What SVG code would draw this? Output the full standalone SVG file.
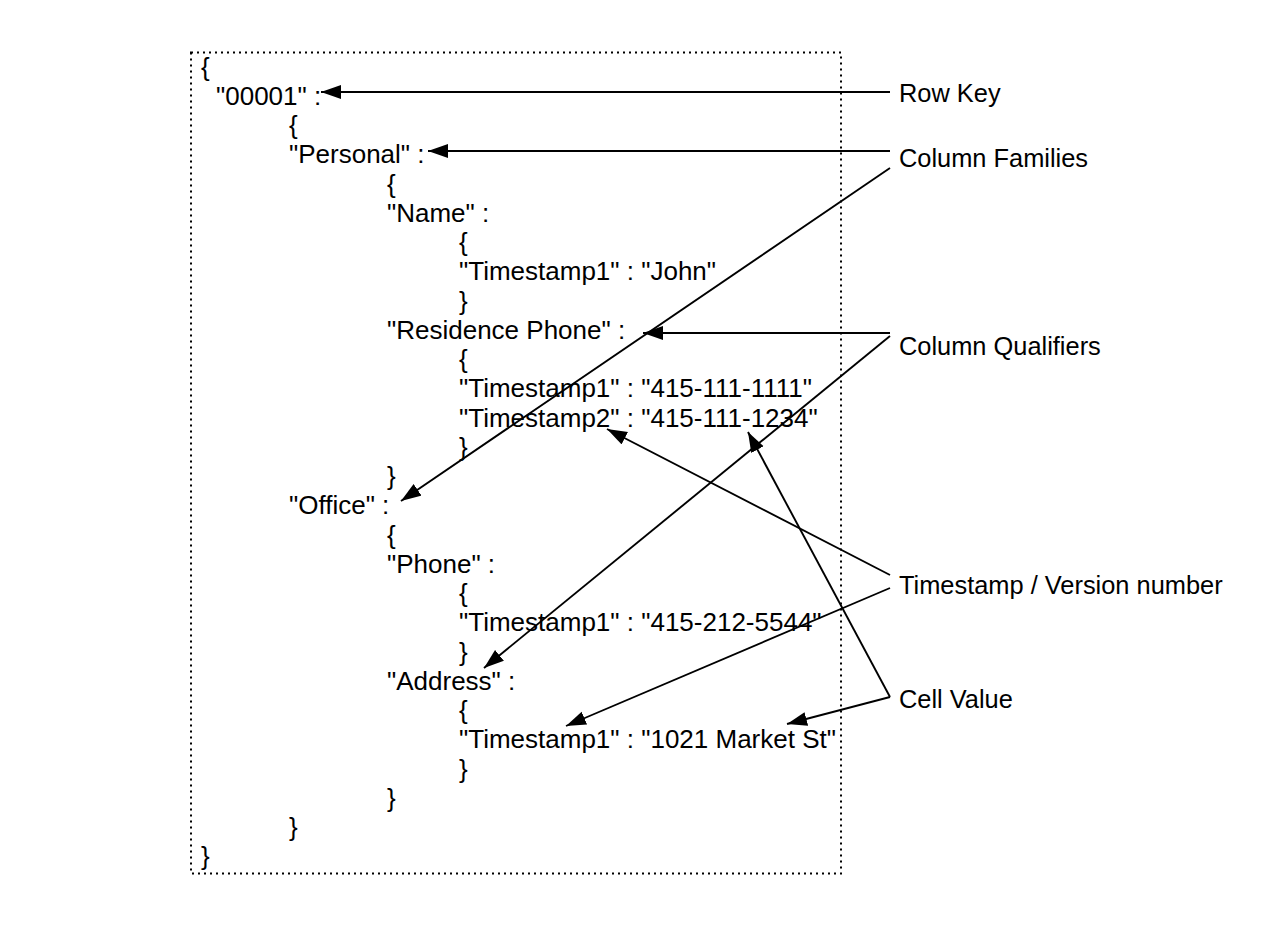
<svg xmlns="http://www.w3.org/2000/svg" width="1288" height="930" viewBox="0 0 1288 930">
<style>
  text { font-family: "Liberation Sans", Arial, Helvetica, sans-serif; font-size: 26px; fill: #000; }
  .label text { font-size: 25.4px; }
  .conn line { stroke: #000; stroke-width: 1.9; fill: none; }
  .frame { fill: none; stroke: #000; stroke-width: 2; stroke-dasharray: 2 4; }
</style>
<defs>
  <marker id="arrow" markerUnits="userSpaceOnUse" markerWidth="22" markerHeight="16" refX="20" refY="7" orient="auto">
    <path d="M0,0 L20,7 L0,14 z" fill="#000"/>
  </marker>
</defs>
<rect width="1288" height="930" fill="#fff"/>
<rect class="frame" x="191" y="52.5" width="650" height="821"/>

<g id="json">
  <text x="201" y="75.5">{</text>
  <text x="216" y="104.75">"00001" :</text>
  <text x="289" y="134">{</text>
  <text x="289" y="163.25">"Personal" :</text>
  <text x="387" y="192.5">{</text>
  <text x="387" y="221.75">"Name" :</text>
  <text x="459" y="251">{</text>
  <text x="459" y="280.25">"Timestamp1" : "John"</text>
  <text x="459" y="309.5">}</text>
  <text x="387" y="338.75">"Residence Phone" :</text>
  <text x="459" y="368">{</text>
  <text x="459" y="397.25">"Timestamp1" : "415-111-1111"</text>
  <text x="459" y="426.5">"Timestamp2" : "415-111-1234"</text>
  <text x="459" y="455.75">}</text>
  <text x="387" y="485">}</text>
  <text x="289" y="514.25">"Office" :</text>
  <text x="387" y="543.5">{</text>
  <text x="387" y="572.75">"Phone" :</text>
  <text x="459" y="602">{</text>
  <text x="459" y="631.25">"Timestamp1" : "415-212-5544"</text>
  <text x="459" y="660.5">}</text>
  <text x="387" y="689.75">"Address" :</text>
  <text x="459" y="719">{</text>
  <text x="459" y="748.25">"Timestamp1" : "1021 Market St"</text>
  <text x="459" y="777.5">}</text>
  <text x="387" y="806.75">}</text>
  <text x="289" y="836">}</text>
  <text x="201" y="865.25">}</text>
</g>

<g id="label-row-key" class="label"><text x="899" y="102">Row Key</text></g>
<g id="label-column-families" class="label"><text x="899" y="167">Column Families</text></g>
<g id="label-column-qualifiers" class="label"><text x="899" y="355">Column Qualifiers</text></g>
<g id="label-timestamp" class="label"><text x="899" y="594">Timestamp / Version number</text></g>
<g id="label-cell-value" class="label"><text x="899" y="708">Cell Value</text></g>

<g id="connectors" class="conn">
  <line x1="890" y1="92" x2="321" y2="92" marker-end="url(#arrow)"/>
  <line x1="890" y1="151" x2="428" y2="151" marker-end="url(#arrow)"/>
  <line x1="890" y1="168" x2="401" y2="501" marker-end="url(#arrow)"/>
  <line x1="890" y1="333" x2="643" y2="333" marker-end="url(#arrow)"/>
  <line x1="890" y1="336" x2="484" y2="668" marker-end="url(#arrow)"/>
  <line x1="890" y1="575" x2="607" y2="429" marker-end="url(#arrow)"/>
  <line x1="890" y1="588" x2="566" y2="726" marker-end="url(#arrow)"/>
  <line x1="890" y1="697" x2="748" y2="432" marker-end="url(#arrow)"/>
  <line x1="890" y1="697" x2="787" y2="724" marker-end="url(#arrow)"/>
</g>
</svg>
